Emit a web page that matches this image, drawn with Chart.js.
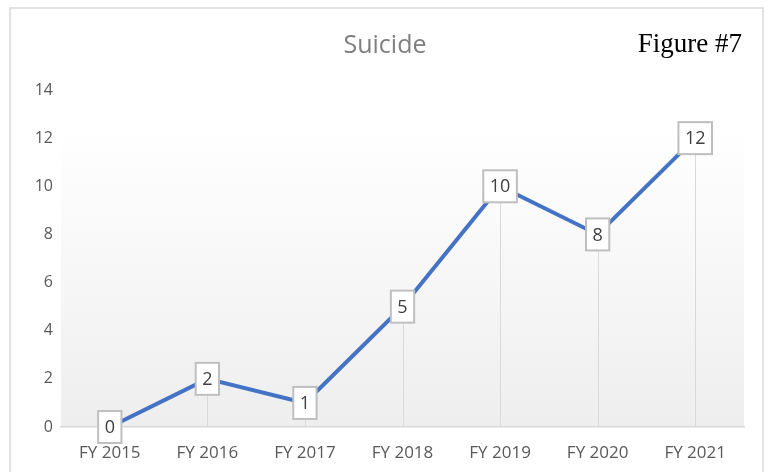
<!DOCTYPE html>
<html>
<head>
<meta charset="utf-8">
<script src="https://cdn.jsdelivr.net/npm/chart.js@4.4.1/dist/chart.umd.min.js"></script>
<style>
  html, body { margin: 0; padding: 0; background: #ffffff; }
  #wrap { width: 770px; height: 472px; }
</style>
</head>
<body>
<div id="wrap"><canvas id="chart" width="770" height="472"></canvas></div>
<script>
// Suicide counts per fiscal year
const years  = ['FY 2015', 'FY 2016', 'FY 2017', 'FY 2018', 'FY 2019', 'FY 2020', 'FY 2021'];
const counts = [0, 2, 1, 5, 10, 8, 12];
const yTicks = [0, 2, 4, 6, 8, 10, 12, 14];

const FONT = "'Open Sans', 'Noto Sans', sans-serif";

// frame, plot-area gradient and drop lines go under the line;
// label boxes and the figure tag go on top
const decor = {
  id: 'decor',
  beforeDraw(chart) {
    const { ctx, chartArea: a } = chart;
    ctx.save();
    ctx.strokeStyle = '#d9d9d9';
    ctx.lineWidth = 1.5;
    ctx.strokeRect(10, 8, 753, 480);

    const g = ctx.createLinearGradient(0, a.top, 0, a.bottom);
    g.addColorStop(0, '#ffffff');
    g.addColorStop(0.12, '#ffffff');
    g.addColorStop(1, '#eeeeee');
    ctx.fillStyle = g;
    ctx.fillRect(a.left, a.top + 37, a.right - a.left, a.bottom - a.top - 37);
    ctx.restore();
  },
  beforeDatasetsDraw(chart) {
    const { ctx, scales: { y } } = chart;
    const meta = chart.getDatasetMeta(0);
    ctx.save();
    ctx.strokeStyle = '#d9d9d9';
    ctx.lineWidth = 1;
    meta.data.forEach(pt => {
      ctx.beginPath();
      ctx.moveTo(Math.round(pt.x) + 0.5, pt.y);
      ctx.lineTo(Math.round(pt.x) + 0.5, y.getPixelForValue(0));
      ctx.stroke();
    });
    ctx.restore();
  },
  afterDatasetsDraw(chart) {
    const { ctx } = chart;
    const meta = chart.getDatasetMeta(0);
    ctx.save();
    ctx.font = '18px ' + FONT;
    ctx.textAlign = 'center';
    ctx.textBaseline = 'middle';
    meta.data.forEach((pt, i) => {
      const txt = String(counts[i]);
      const w = ctx.measureText(txt).width + 13;
      const h = 32;
      ctx.fillStyle = '#ffffff';
      ctx.fillRect(pt.x - w / 2, pt.y - h / 2, w, h);
      ctx.strokeStyle = '#bfbfbf';
      ctx.lineWidth = 2;
      ctx.strokeRect(pt.x - w / 2, pt.y - h / 2, w, h);
      ctx.fillStyle = '#404040';
      ctx.fillText(txt, pt.x, pt.y + 1);
    });

    ctx.font = "27px 'Liberation Serif', 'DejaVu Serif', serif";
    ctx.fillStyle = '#000000';
    ctx.textAlign = 'right';
    ctx.fillText('Figure #7', 742, 45);
    ctx.restore();
  }
};

new Chart(document.getElementById('chart'), {
  type: 'line',
  data: {
    labels: years,
    datasets: [{
      label: 'Suicide',
      data: counts,
      borderColor: '#4472C4',
      borderWidth: 4,
      pointRadius: 0,
      tension: 0,
      fill: false
    }]
  },
  options: {
    responsive: false,
    animation: false,
    layout: { padding: { left: 0, right: 0, top: 0, bottom: 0 } },
    plugins: {
      legend: { display: false },
      tooltip: { enabled: false },
      title: {
        display: true,
        text: 'Suicide',
        color: '#7f7f7f',
        font: { family: FONT, size: 25, weight: 'normal' },
        padding: { top: 31, bottom: 29 }
      }
    },
    scales: {
      x: {
        offset: true,
        grid: { display: true, color: 'rgba(0,0,0,0)', drawTicks: false },
        border: { display: true, color: '#d9d9d9', width: 1.5 },
        ticks: { color: '#595959', font: { family: FONT, size: 17 }, padding: 16, maxRotation: 0 },
        afterFit(s) { s.height = 45; }
      },
      y: {
        min: 0,
        max: 14,
        grid: { display: false, drawTicks: false },
        border: { display: false },
        afterBuildTicks(s) { s.ticks = yTicks.map(v => ({ value: v })); },
        ticks: { color: '#595959', font: { family: FONT, size: 16 }, padding: 8 },
        afterFit(s) { s.width = 61; }
      },
      // empty right-hand axis only to keep the right margin
      yRight: {
        position: 'right',
        display: true,
        grid: { display: false, drawTicks: false },
        border: { display: false },
        ticks: { display: false },
        afterFit(s) { s.width = 26; }
      }
    }
  },
  plugins: [decor]
});
</script>
</body>
</html>
